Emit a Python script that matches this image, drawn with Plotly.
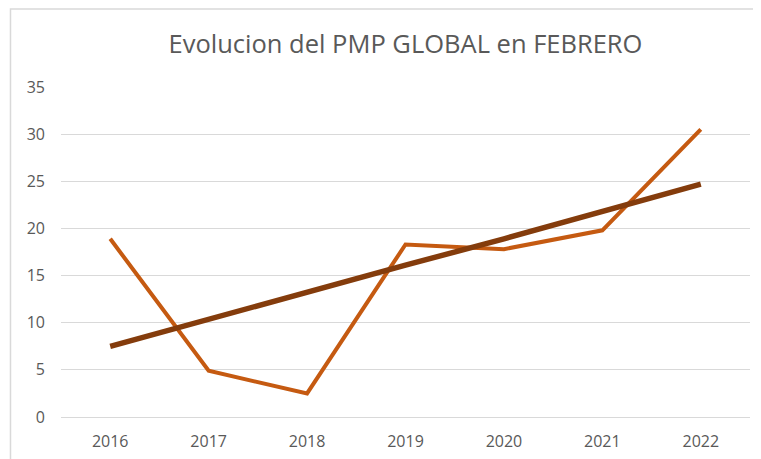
import plotly.graph_objects as go

years = ["2016", "2017", "2018", "2019", "2020", "2021", "2022"]
pmp_values = [18.9, 4.9, 2.5, 18.3, 17.8, 19.8, 30.5]
trend_values = [7.5, 10.4, 13.2, 16.1, 18.9, 21.8, 24.7]
y_ticks = [0, 5, 10, 15, 20, 25, 30, 35]

fig = go.Figure()
fig.add_trace(go.Scatter(x=years, y=pmp_values, mode="lines",
                         line=dict(color="#C55A11", width=4),
                         name="PMP GLOBAL"))
fig.add_trace(go.Scatter(x=years, y=trend_values, mode="lines",
                         line=dict(color="#843C0C", width=5.5),
                         name="Lineal"))

font_family = "Open Sans, Liberation Sans, sans-serif"
fig.update_layout(
    width=753, height=451,
    margin=dict(l=53, r=11, t=79, b=42),
    paper_bgcolor="white", plot_bgcolor="white",
    showlegend=False,
    title=dict(text="Evolucion del PMP GLOBAL en FEBRERO",
               font=dict(family=font_family, size=25.5, color="#595959"),
               x=0.5, xanchor="center", xref="paper",
               y=0.921, yanchor="middle"),
    font=dict(family=font_family, color="#595959", size=16),
    xaxis=dict(type="category", range=[-0.5, 6.5], showgrid=False,
               showline=False, zeroline=False, automargin=False,
               ticks="", tickfont=dict(size=16, color="#595959"),
               ticklabelstandoff=13),
    yaxis=dict(range=[0, 35], tickvals=y_ticks, showgrid=True,
               gridcolor="#D9D9D9", gridwidth=1.3, zeroline=True,
               zerolinecolor="#D9D9D9", zerolinewidth=1.3, showline=False,
               automargin=False,
               ticks="", tickfont=dict(size=16, color="#595959"),
               ticklabelstandoff=15),
    shapes=[dict(type="rect", xref="paper", yref="paper",
                 x0=-0.0733, x1=1.03, y0=-0.16, y1=1.236,
                 line=dict(color="#D9D9D9", width=1.5), fillcolor="rgba(0,0,0,0)",
                 layer="below")],
)

fig.write_html("out.html")
